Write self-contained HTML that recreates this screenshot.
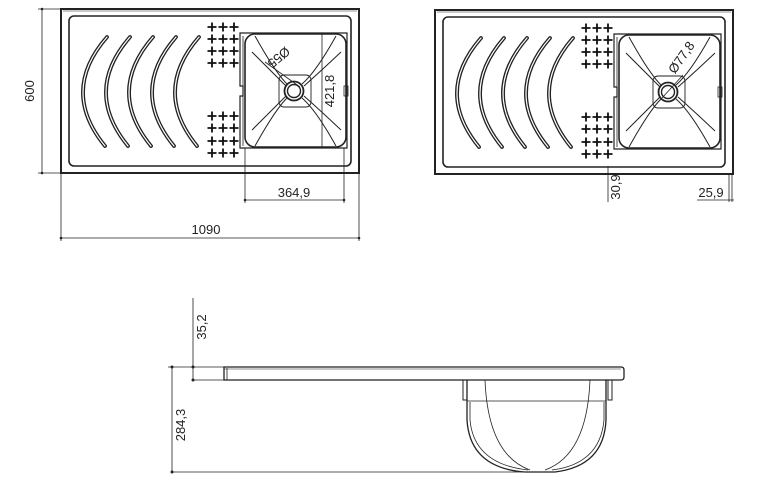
<!DOCTYPE html>
<html><head><meta charset="utf-8"><style>
html,body{margin:0;padding:0;background:#fff;}
svg{display:block;}
text{font-family:"Liberation Sans",sans-serif;font-size:13px;fill:#222;}
</style></head><body>
<svg width="759" height="500" viewBox="0 0 759 500" xmlns="http://www.w3.org/2000/svg">
<defs>
<g id="cr" stroke="#111" stroke-width="1.8"><path d="M-4.5 0H4.5M0 -4.5V4.5"/></g>
<g id="crow"><use href="#cr" x="0"/><use href="#cr" x="11"/><use href="#cr" x="22"/></g>
<g id="arc"><path d="M107 37 Q60 91 105 146" fill="none" stroke="#222" stroke-width="3.8" stroke-linecap="round"/><path d="M107 37 Q60 91 105 146" fill="none" stroke="#fff" stroke-width="1.2" stroke-linecap="round"/></g>
<g id="plan" fill="none" stroke="#222">
  <rect x="61" y="9" width="298" height="164" stroke-width="2"/>
  <line x1="63" y1="11" x2="357" y2="11" stroke-width="0.6"/>
  <rect x="69" y="16" width="282" height="150" rx="5" stroke-width="1.6"/>
  <use href="#arc"/><use href="#arc" x="23"/><use href="#arc" x="46"/><use href="#arc" x="69"/><use href="#arc" x="92"/>
  <use href="#crow" x="212" y="27"/><use href="#crow" x="212" y="39"/><use href="#crow" x="212" y="51"/><use href="#crow" x="212" y="63"/>
  <use href="#crow" x="212" y="116"/><use href="#crow" x="212" y="128"/><use href="#crow" x="212" y="141"/><use href="#crow" x="212" y="153"/>
  <path d="M240 33H347V148H240V96H243V86H240Z" stroke-width="1.2"/>
  <line x1="243" y1="36" x2="243" y2="146" stroke-width="0.8"/>
  <rect x="245" y="34" width="101" height="113" rx="10" stroke-width="1.6"/>
  <rect x="279" y="75" width="32" height="32" rx="5" stroke-width="0.9"/>
  <path d="M255 36 Q275 72 287 84 M252 52 Q270 70 286 86 M336 36 Q316 72 302 84 M341 52 Q322 70 304 86 M255 146 Q275 110 287 98 M252 130 Q270 112 286 96 M336 146 Q316 110 302 98 M341 130 Q322 112 304 96" stroke-width="1"/>
  <circle cx="294" cy="91" r="9.5" stroke-width="1.8"/>
  <circle cx="294" cy="91" r="6.5" stroke-width="1.4"/>
  <rect x="344" y="86" width="4" height="10" stroke-width="0.8"/>
</g>
</defs>
<use href="#plan"/>
<use href="#plan" x="374" y="1"/>
<g stroke="#222" stroke-width="0.8" fill="none">
  <line x1="38" y1="9" x2="61" y2="9"/><line x1="38" y1="173" x2="61" y2="173"/>
  <line x1="42" y1="9" x2="42" y2="173"/>
  <line x1="61" y1="173" x2="61" y2="241"/><line x1="359" y1="173" x2="359" y2="241"/>
  <line x1="61" y1="238" x2="359" y2="238"/>
  <line x1="245" y1="148" x2="245" y2="203"/><line x1="344" y1="148" x2="344" y2="203"/>
  <line x1="245" y1="200" x2="344" y2="200"/>
  <line x1="322" y1="33" x2="322" y2="148"/>
  <line x1="265" y1="62" x2="300" y2="87"/>
  <line x1="608" y1="166" x2="608" y2="202"/>
  <line x1="729" y1="174" x2="729" y2="202"/><line x1="732" y1="174" x2="732" y2="202"/>
  <line x1="697" y1="200" x2="734" y2="200"/>
  <line x1="683" y1="75" x2="662" y2="98"/>
  <line x1="193" y1="298" x2="193" y2="380"/>
  <line x1="168" y1="367" x2="224" y2="367"/>
  <line x1="193" y1="380" x2="224" y2="380"/>
  <line x1="172" y1="367" x2="172" y2="472"/>
  <line x1="172" y1="472" x2="530" y2="472"/>
</g>
<g stroke="#222" fill="none">
  <path d="M224 367H621Q624 367 624 370V377Q624 380 621 380H224Z" stroke-width="1.3"/>
  <line x1="227" y1="368" x2="227" y2="380" stroke-width="0.8"/>
  <line x1="224" y1="369" x2="621" y2="369" stroke-width="0.6"/>
  <path d="M463 380V400H467V380 M612 380V400H608V380" stroke-width="1"/>
  <path d="M467 380V420Q470 468 525 472H555Q604 466 606 420V380" stroke-width="1.3"/>
  <path d="M470 402V420Q474 464 528 470 M604 402V420Q600 464 552 470" stroke-width="0.8"/>
  <path d="M485 380Q488 455 530 470 M590 380Q587 455 545 470" stroke-width="0.8"/>
  <line x1="467" y1="401" x2="606" y2="401" stroke-width="0.8"/>
</g>
<g fill="#222"><circle cx="193" cy="367" r="1.5"/><circle cx="193" cy="380" r="1.5"/><circle cx="172" cy="367" r="1.5"/><circle cx="172" cy="472" r="1.5"/><circle cx="42" cy="9" r="1.3"/><circle cx="42" cy="173" r="1.3"/><circle cx="61" cy="238" r="1.3"/><circle cx="359" cy="238" r="1.3"/><circle cx="245" cy="200" r="1.3"/><circle cx="344" cy="200" r="1.3"/></g>
<text x="34" y="91" transform="rotate(-90 34 91)" text-anchor="middle" font-size="14">600</text>
<text x="206" y="234" text-anchor="middle">1090</text>
<text x="294" y="197" text-anchor="middle">364,9</text>
<text x="334" y="91" transform="rotate(-90 334 91)" text-anchor="middle" font-size="12">421,8</text>
<text x="276" y="54" transform="rotate(140 276 54)" text-anchor="middle" font-size="12">Ø55</text>
<text x="685" y="60" transform="rotate(-55 685 60)" text-anchor="middle" font-size="12">Ø77,8</text>
<text x="620" y="187" transform="rotate(-90 620 187)" text-anchor="middle">30,9</text>
<text x="711" y="197" text-anchor="middle">25,9</text>
<text x="206" y="327" transform="rotate(-90 206 327)" text-anchor="middle">35,2</text>
<text x="185" y="425" transform="rotate(-90 185 425)" text-anchor="middle">284,3</text>
</svg>
</body></html>
